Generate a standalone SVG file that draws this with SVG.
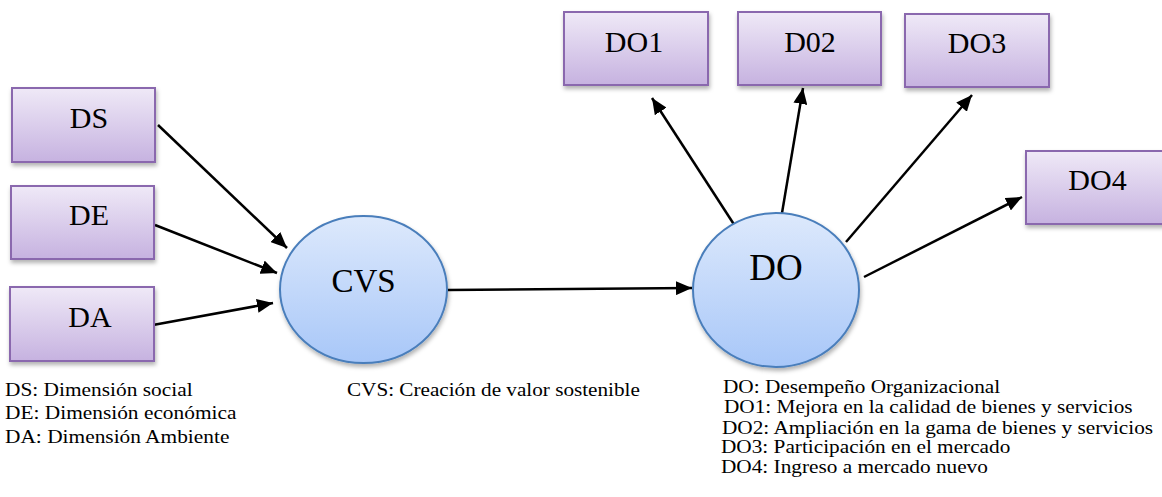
<svg xmlns="http://www.w3.org/2000/svg" width="1162" height="497" viewBox="0 0 1162 497">
<style>
.box{fill:url(#gBox);stroke:#8A68AE;stroke-width:2;filter:url(#sh)}
.ell{fill:url(#gEll);stroke:#4A7EBB;stroke-width:2;filter:url(#sh)}
.lbl{font-family:"Liberation Serif","Times New Roman",serif;fill:#000;text-anchor:middle}
.leg{font-family:"Liberation Serif","Times New Roman",serif;font-size:19px;fill:#000}
.con{stroke:#000;stroke-width:2.5;fill:none;marker-end:url(#ah)}
</style>
<defs>
<linearGradient id="gBox" x1="0" y1="0" x2="0" y2="1">
<stop offset="0" stop-color="#EFE9F7"/><stop offset="1" stop-color="#C6B2E0"/>
</linearGradient>
<linearGradient id="gEll" x1="0" y1="0" x2="0" y2="1">
<stop offset="0" stop-color="#DDE9FC"/><stop offset="1" stop-color="#A8C7F8"/>
</linearGradient>
<filter id="sh" x="-10%" y="-10%" width="125%" height="130%">
<feDropShadow dx="1" dy="3" stdDeviation="2" flood-color="#000" flood-opacity="0.3"/>
</filter>
<marker id="ah" markerUnits="userSpaceOnUse" markerWidth="16" markerHeight="14" refX="16" refY="7" orient="auto">
<path d="M0,0 L16,7 L0,14 Z" fill="#000"/>
</marker>
</defs>

<g id="connectors">
<line class="con" x1="158" y1="125" x2="287" y2="248"/>
<line class="con" x1="155" y1="225" x2="277" y2="273"/>
<line class="con" x1="153" y1="325" x2="273" y2="303"/>
<line class="con" x1="448" y1="290" x2="692" y2="288"/>
<line class="con" x1="735" y1="226" x2="652" y2="98"/>
<line class="con" x1="782" y1="213" x2="803" y2="88"/>
<line class="con" x1="846" y1="242" x2="972" y2="95"/>
<line class="con" x1="864" y1="277" x2="1022" y2="197"/>
</g>

<g id="node-DS"><rect class="box" x="12" y="88" width="143" height="74"/><text class="lbl" x="89" y="128" font-size="30">DS</text></g>
<g id="node-DE"><rect class="box" x="11" y="186" width="143" height="73"/><text class="lbl" x="89" y="225" font-size="30">DE</text></g>
<g id="node-DA"><rect class="box" x="10" y="287" width="144" height="74"/><text class="lbl" x="90" y="327" font-size="30">DA</text></g>
<g id="node-CVS"><ellipse class="ell" cx="363.5" cy="289.5" rx="83.5" ry="73.5"/><text class="lbl" x="363.5" y="292" font-size="33">CVS</text></g>
<g id="node-DO"><ellipse class="ell" cx="776" cy="290" rx="83" ry="77"/><text class="lbl" x="776" y="280" font-size="37">DO</text></g>
<g id="node-DO1"><rect class="box" x="564" y="12" width="144" height="73"/><text class="lbl" x="634" y="52" font-size="30">DO1</text></g>
<g id="node-D02"><rect class="box" x="738" y="12" width="143" height="73"/><text class="lbl" x="810" y="52" font-size="30">D02</text></g>
<g id="node-DO3"><rect class="box" x="905" y="14" width="144" height="73"/><text class="lbl" x="977" y="53" font-size="30">DO3</text></g>
<g id="node-DO4"><rect class="box" x="1026" y="151" width="144" height="73"/><text class="lbl" x="1097.5" y="190" font-size="30">DO4</text></g>

<g id="legend">
<g transform="translate(5,0) scale(1.125,1)">
<text class="leg" x="0" y="396">DS: Dimensión social</text>
<text class="leg" x="0" y="419">DE: Dimensión económica</text>
<text class="leg" x="0" y="443">DA: Dimensión Ambiente</text>
</g>
<g transform="translate(347,0) scale(1.115,1)">
<text class="leg" x="0" y="396">CVS: Creación de valor sostenible</text>
</g>
<g transform="translate(721,0) scale(1.12,1)">
<text class="leg" x="1.8" y="393">DO: Desempeño Organizacional</text>
<text class="leg" x="2.7" y="413">DO1: Mejora en la calidad de bienes y servicios</text>
<text class="leg" x="0.9" y="434">DO2: Ampliación en la gama de bienes y servicios</text>
<text class="leg" x="0" y="453">DO3: Participación en el mercado</text>
<text class="leg" x="0" y="473">DO4: Ingreso a mercado nuevo</text>
</g>
</g>
</svg>
